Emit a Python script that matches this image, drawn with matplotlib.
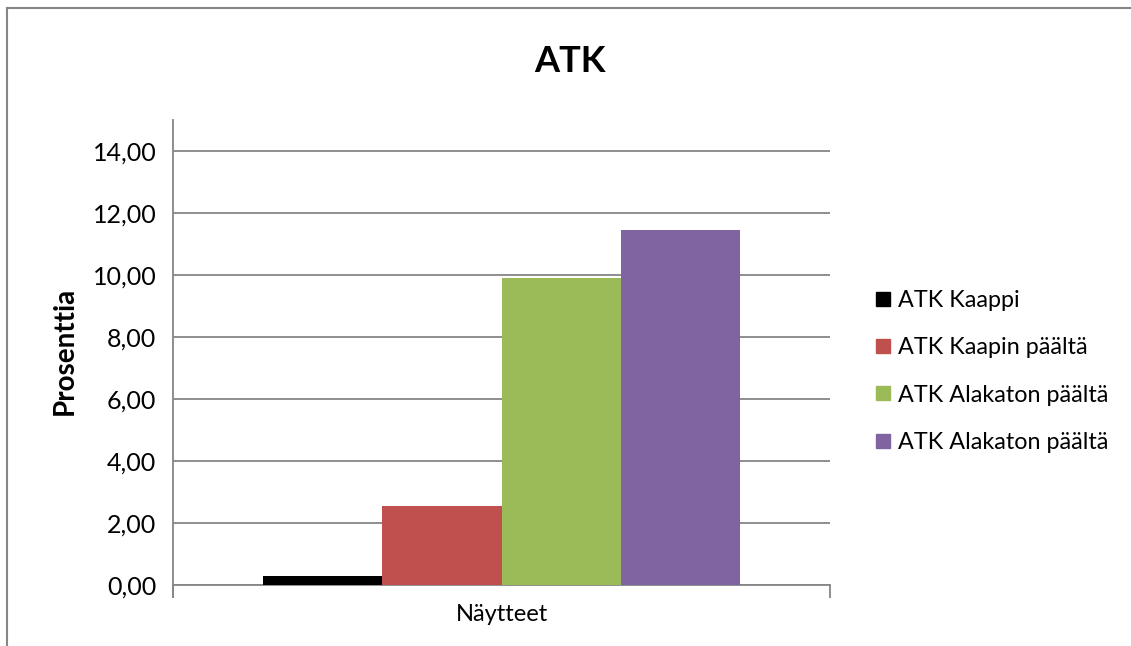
import matplotlib
matplotlib.use("Agg")
import matplotlib.pyplot as plt
from matplotlib.lines import Line2D

# data
series = ["ATK Kaappi", "ATK Kaapin päältä", "ATK Alakaton päältä", "ATK Alakaton päältä"]
values = [0.30, 2.55, 9.90, 11.45]
colors = ["#000000", "#C0504D", "#9BBB59", "#8064A2"]
category = "Näytteet"
yticks = [0, 2, 4, 6, 8, 10, 12, 14]

plt.rcParams['font.family'] = ['Lato', 'DejaVu Sans']
grey = "#868686"

fig = plt.figure(figsize=(11.31, 6.46), dpi=100)
ax = fig.add_axes([173/1131, 1 - 585/646, (830-173)/1131, (585-120)/646])

w = 1.0
gap = 1.5
n = len(values)
for i, (s, v, c) in enumerate(zip(series, values, colors)):
    x = (i - (n - 1) / 2) * w
    ax.bar(x, v, width=w, color=c, label=s, zorder=3)

half = (n * w + gap * w) / 2
ax.set_xlim(-half, half)
ax.set_ylim(0, 15)
ax.set_yticks(yticks)
ax.yaxis.set_major_formatter(matplotlib.ticker.FuncFormatter(lambda v, p: ("%.2f" % v).replace(".", ",")))
ax.tick_params(axis='y', length=0, pad=12, labelsize=18)
ax.grid(axis='y', color=grey, linewidth=1.3, zorder=0)

ax.set_xticks([0])
ax.set_xticklabels([category])
ax.tick_params(axis='x', length=0, pad=14, labelsize=17)
ax.set_xticks([-half, half], minor=True)
ax.tick_params(axis='x', which='minor', length=9, color=grey, width=1.3)

for sp in ['top', 'right']:
    ax.spines[sp].set_visible(False)
for sp in ['left', 'bottom']:
    ax.spines[sp].set_color(grey)
    ax.spines[sp].set_linewidth(1.3)
# y axis extends a little below zero
ax.plot([-half, -half], [0, -0.38], color=grey, lw=1.3, clip_on=False)

fig.text(570/1131, 1 - 62/646, "ATK", ha='center', va='center',
         fontsize=26, fontweight='bold')
fig.text(65/1131, 1 - 351/646, "Prosenttia", ha='center', va='center',
         rotation=90, fontsize=20, fontweight='bold')

handles = [Line2D([], [], marker='s', linestyle='none', markersize=10.5,
                  markerfacecolor=c, markeredgecolor=c) for c in colors]
fig.legend(handles, series, loc='upper left', bbox_to_anchor=(862/1131, 1 - 281/646),
           frameon=False, fontsize=16.8, handletextpad=0.15, labelspacing=1.12,
           handlelength=1.0, borderaxespad=0)

# chart frame
fig.add_artist(Line2D([7/1131, 7/1131], [0, 1 - 8/646], color=grey, lw=1.5))
fig.add_artist(Line2D([7/1131, 1], [1 - 8/646, 1 - 8/646], color=grey, lw=1.5))

fig.savefig("out.png", dpi=100)
